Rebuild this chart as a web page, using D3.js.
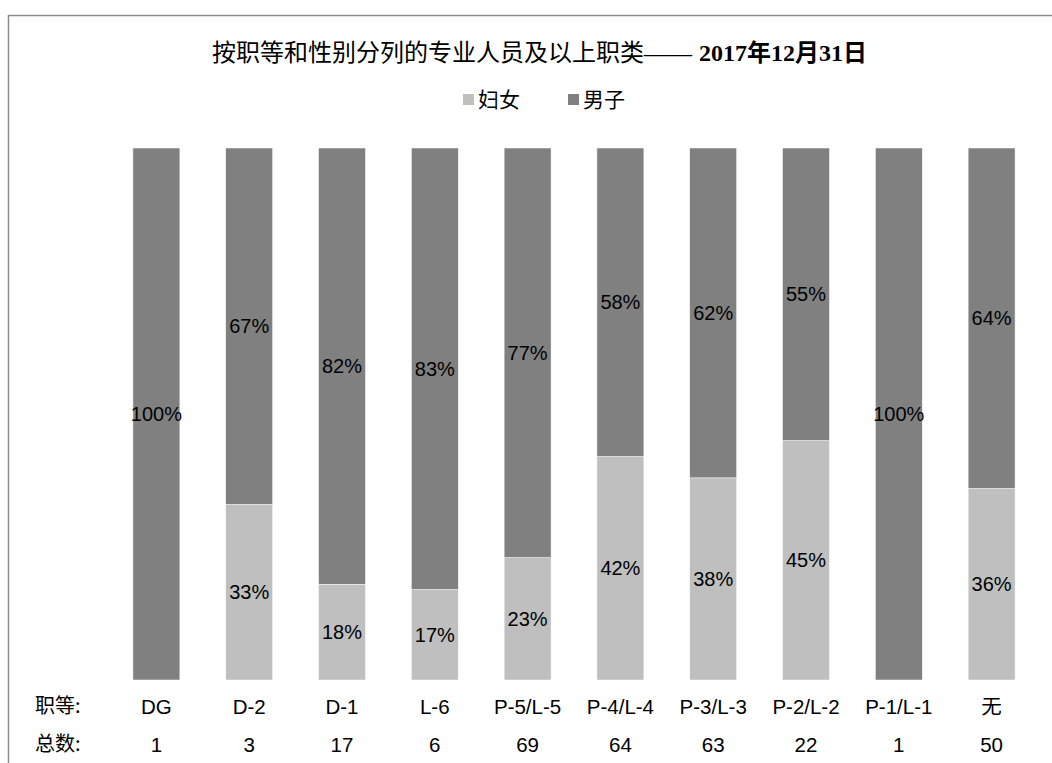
<!DOCTYPE html>
<html>
<head>
<meta charset="utf-8">
<script src="https://cdn.jsdelivr.net/npm/d3@7"></script>
<style>
    body { margin: 0; background: #fff; }
    svg { display: block; }
</style>
</head>
<body>
<div id="chart"></div>
<script>
// Grades, share of women / men (%), and headcount per grade
let grades = ["DG", "D-2", "D-1", "L-6", "P-5/L-5", "P-4/L-4", "P-3/L-3", "P-2/L-2", "P-1/L-1", "无"];
let women = [0, 33, 18, 17, 23, 42, 38, 45, 0, 36];
let men = [100, 67, 82, 83, 77, 58, 62, 55, 100, 64];
let totals = [1, 3, 17, 6, 69, 64, 63, 22, 1, 50];

let seriesNames = ["妇女", "男子"];
let seriesColors = ["#bfbfbf", "#808080"];

let width = 1052, height = 763;
let cjk = "'Noto Sans CJK SC', 'Noto Sans', sans-serif";
let latin = "'Liberation Sans', Arial, sans-serif";
let serif = "'Liberation Serif', 'Times New Roman', serif";

let svg = d3.select("#chart").append("svg")
    .attr("width", width)
    .attr("height", height);

// frame (only top and left edges visible)
svg.append("path")
    .attr("d", "M8.5," + height + "V15.5H" + width)
    .attr("fill", "none")
    .attr("stroke", "#8c8c8c")
    .attr("stroke-width", 1.5);

// title
let title = svg.append("text")
    .attr("x", 212)
    .attr("y", 61)
    .style("font-family", cjk)
    .style("font-size", "24px")
    .attr("fill", "#000");
title.append("tspan").text("按职等和性别分列的专业人员及以上职类");
title.append("tspan")
    .style("font-family", serif)
    .text("——");
let datePart = title.append("tspan")
    .attr("dx", 7)
    .style("font-weight", "bold");
datePart.append("tspan").style("font-family", serif).text("2017");
datePart.append("tspan").text("年");
datePart.append("tspan").style("font-family", serif).text("12");
datePart.append("tspan").text("月");
datePart.append("tspan").style("font-family", serif).text("31");
datePart.append("tspan").text("日");

// legend
let legend = svg.append("g").selectAll("g")
    .data(seriesNames)
    .enter()
    .append("g")
    .attr("transform", function(d, i) { return "translate(" + (463 + i * 105) + ",0)"; });
legend.append("rect")
    .attr("x", 0)
    .attr("y", 94)
    .attr("width", 11)
    .attr("height", 11)
    .attr("fill", function(d, i) { return seriesColors[i]; });
legend.append("text")
    .attr("x", 15)
    .attr("y", 107)
    .style("font-family", cjk)
    .style("font-size", "21px")
    .text(function(d) { return d; });

// scales
let x = d3.scaleBand()
    .domain(grades)
    .range([110, 1038])
    .paddingInner(0.494)
    .paddingOuter(0.247);

let y = d3.scaleLinear()
    .domain([0, 100])
    .range([680, 148]);

let rows = grades.map(function(g, i) {
    return { grade: g, women: women[i], men: men[i], total: totals[i] };
});

let stack = d3.stack().keys(["women", "men"])(rows);

let layers = svg.append("g").selectAll("g")
    .data(stack)
    .enter()
    .append("g")
    .attr("fill", function(d, i) { return seriesColors[i]; });

layers.selectAll("rect")
    .data(function(d) { return d; })
    .enter()
    .append("rect")
    .attr("x", function(d) { return x(d.data.grade); })
    .attr("y", function(d) { return y(d[1]); })
    .attr("width", x.bandwidth())
    .attr("height", function(d) { return y(d[0]) - y(d[1]); })
    .attr("stroke", "#ffffff")
    .attr("stroke-width", 0.5);

// value labels
layers.selectAll("text")
    .data(function(d) { return d.filter(function(p) { return p[1] - p[0] > 0; }); })
    .enter()
    .append("text")
    .attr("x", function(d) { return x(d.data.grade) + x.bandwidth() / 2; })
    .attr("y", function(d) { return (y(d[0]) + y(d[1])) / 2 + 7; })
    .attr("text-anchor", "middle")
    .attr("fill", "#000")
    .style("font-family", latin)
    .style("font-size", "20px")
    .text(function(d) { return (d[1] - d[0]) + "%"; });

// category and total rows under the bars
let rowLabels = [["职等:", 714], ["总数:", 752]];
svg.append("g").selectAll("text")
    .data(rowLabels)
    .enter()
    .append("text")
    .attr("x", 35)
    .attr("y", function(d) { return d[1] - 1; })
    .style("font-family", cjk)
    .style("font-size", "20px")
    .text(function(d) { return d[0]; });

svg.append("g").selectAll("text")
    .data(rows)
    .enter()
    .append("text")
    .attr("x", function(d) { return x(d.grade) + x.bandwidth() / 2; })
    .attr("y", 714)
    .attr("text-anchor", "middle")
    .style("font-family", function(d) { return d.grade === "无" ? cjk : latin; })
    .style("font-size", "20.5px")
    .text(function(d) { return d.grade; });

svg.append("g").selectAll("text")
    .data(rows)
    .enter()
    .append("text")
    .attr("x", function(d) { return x(d.grade) + x.bandwidth() / 2; })
    .attr("y", 752)
    .attr("text-anchor", "middle")
    .style("font-family", latin)
    .style("font-size", "20.5px")
    .text(function(d) { return d.total; });
</script>
</body>
</html>
